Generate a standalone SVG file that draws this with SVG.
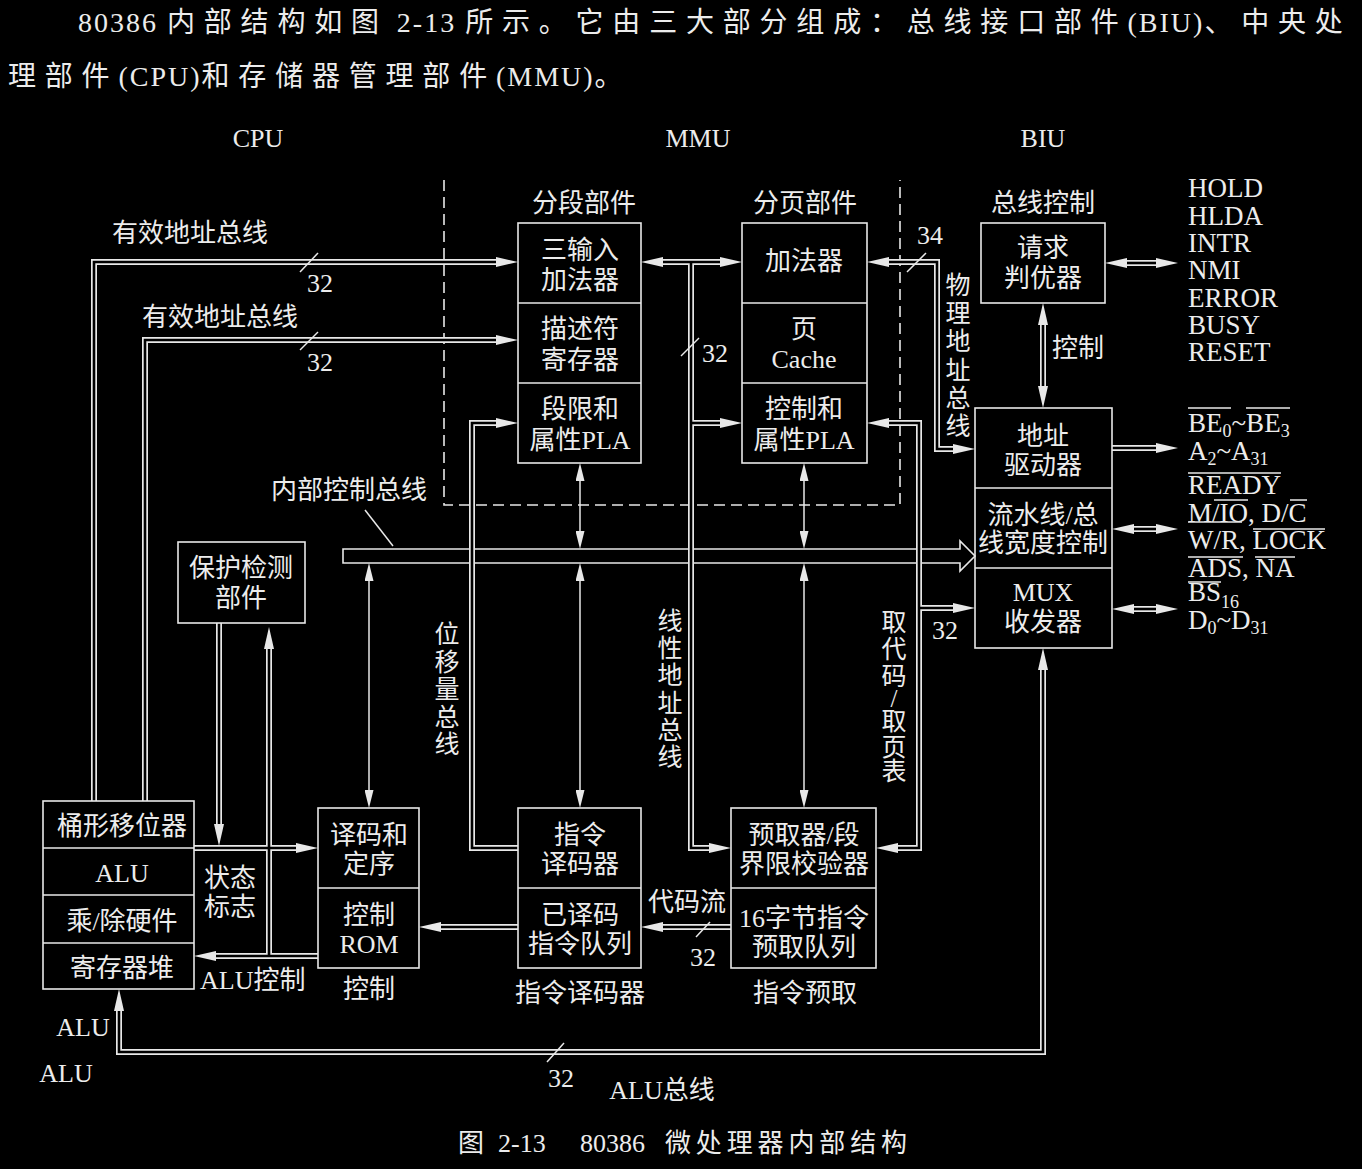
<svg xmlns="http://www.w3.org/2000/svg" width="1362" height="1169" viewBox="0 0 1362 1169">
<style>
.box{fill:none;stroke:#e8e8e8;stroke-width:1.6}
.t{font-family:"Liberation Serif","Noto Sans CJK SC",serif;font-size:26px;fill:#ececec;text-anchor:middle;dominant-baseline:central}
.s{text-anchor:start}
.h{font-size:28px}
.cj{letter-spacing:8.8px}
.la{letter-spacing:2px}
.sig{font-size:27px}
.v{font-size:25px}
.o{fill:none;stroke:#e8e8e8;stroke-width:6;stroke-linejoin:miter}
.i{fill:none;stroke:#000;stroke-width:2.6;stroke-linejoin:miter}
.sl{fill:none;stroke:#e8e8e8;stroke-width:1.5}
.dash{fill:none;stroke:#e8e8e8;stroke-width:1.6;stroke-dasharray:11 6}
.sub{font-size:18px}
</style>
<defs>
<marker id="ah" viewBox="0 0 22 10" refX="0" refY="5" markerWidth="22" markerHeight="10" markerUnits="userSpaceOnUse" orient="auto-start-reverse"><path d="M0,0 L22,5 L0,10 Z" fill="#e8e8e8"/></marker>
<marker id="as" viewBox="0 0 18 9" refX="0" refY="4.5" markerWidth="18" markerHeight="9" markerUnits="userSpaceOnUse" orient="auto-start-reverse"><path d="M0,0 L18,4.5 L0,9 Z" fill="#e8e8e8"/></marker>
</defs>
<rect x="0" y="0" width="1362" height="1169" fill="#000"/>

<!-- header text -->
<g id="header">
<text class="t s h" x="78" y="22" xml:space="preserve"><tspan class="la">80386 </tspan><tspan class="cj">内部结构如图</tspan><tspan class="la"> 2-13 </tspan><tspan class="cj">所示。它由三大部分组成：总线接口部件</tspan><tspan class="la">(BIU)</tspan><tspan class="cj">、中央</tspan><tspan>处</tspan></text>
<text class="t s h" x="8" y="76"><tspan class="cj">理部件</tspan><tspan class="la">(CPU)</tspan><tspan class="cj">和存储器管理部件</tspan><tspan class="la">(MMU)</tspan><tspan>。</tspan></text>
</g>

<text class="t" x="258" y="138">CPU</text>
<text class="t" x="698" y="138">MMU</text>
<text class="t" x="1043" y="138">BIU</text>

<!-- MMU dashed boundary -->
<path class="dash" d="M444,180 V505 H900 V180"/>

<!-- internal control bus -->
<g id="internal-control-bus">
<path class="box" d="M343,549 H960 V541 L975,556 L960,571 V563 H343 Z"/>
<line class="sl" x1="365" y1="510" x2="393" y2="546"/>
<text class="t" x="349" y="490">内部控制总线</text>
</g>

<!-- connectors -->
<g id="connectors">
<g id="outer">
<path class="o" d="M94,801 V262 H496" marker-end="url(#ah)"/>
<path class="o" d="M145,801 V340 H496" marker-end="url(#ah)"/>
<path class="o" d="M663,262 H720" marker-start="url(#ah)" marker-end="url(#ah)"/>
<path class="o" d="M691,262 V848 H709" marker-end="url(#ah)"/>
<path class="o" d="M691,423 H720" marker-end="url(#ah)"/>
<path class="o" d="M518,848 H472 V423 H496" marker-end="url(#ah)"/>
<path class="o" d="M889,262 H937 V449 H953" marker-start="url(#ah)" marker-end="url(#ah)"/>
<path class="o" d="M889,423 H919 V848 H898" marker-start="url(#ah)" marker-end="url(#ah)"/>
<path class="o" d="M919,608 H953" marker-end="url(#ah)"/>
<path class="o" d="M1112,448 H1156" marker-end="url(#ah)"/>
<path class="o" d="M1127,263 H1156" marker-start="url(#ah)" marker-end="url(#ah)"/>
<path class="o" d="M1134,529 H1156" marker-start="url(#ah)" marker-end="url(#ah)"/>
<path class="o" d="M1134,609 H1156" marker-start="url(#ah)" marker-end="url(#ah)"/>
<path class="o" d="M1043,325 V386" marker-start="url(#ah)" marker-end="url(#ah)"/>
<path class="o" d="M1043,670 V1052 H119 V1011" marker-start="url(#ah)" marker-end="url(#ah)"/>
<path class="o" d="M194,848 H296" marker-end="url(#ah)"/>
<path class="o" d="M219,623 V824" marker-end="url(#ah)"/>
<path class="o" d="M269,956 V649" marker-end="url(#ah)"/>
<path class="o" d="M318,956 H216" marker-end="url(#ah)"/>
<path class="o" d="M518,927 H441" marker-end="url(#ah)"/>
<path class="o" d="M731,927 H663" marker-end="url(#ah)"/>
</g>
<g id="inner">
<path class="i" d="M94,801 V262 H496"/>
<path class="i" d="M145,801 V340 H496"/>
<path class="i" d="M663,262 H720"/>
<path class="i" d="M691,262 V848 H709"/>
<path class="i" d="M691,423 H720"/>
<path class="i" d="M518,848 H472 V423 H496"/>
<path class="i" d="M889,262 H937 V449 H953"/>
<path class="i" d="M889,423 H919 V848 H898"/>
<path class="i" d="M919,608 H953"/>
<path class="i" d="M1112,448 H1156"/>
<path class="i" d="M1127,263 H1156"/>
<path class="i" d="M1134,529 H1156"/>
<path class="i" d="M1134,609 H1156"/>
<path class="i" d="M1043,325 V386"/>
<path class="i" d="M1043,670 V1052 H119 V1011"/>
<path class="i" d="M194,848 H296"/>
<path class="i" d="M219,623 V824"/>
<path class="i" d="M269,956 V649"/>
<path class="i" d="M318,956 H216"/>
<path class="i" d="M518,927 H441"/>
<path class="i" d="M731,927 H663"/>
</g>
<g id="single">
<path class="sl" d="M369,581 V790" marker-start="url(#as)" marker-end="url(#as)"/>
<path class="sl" d="M580,481 V531" marker-start="url(#as)" marker-end="url(#as)"/>
<path class="sl" d="M580,581 V790" marker-start="url(#as)" marker-end="url(#as)"/>
<path class="sl" d="M804,481 V531" marker-start="url(#as)" marker-end="url(#as)"/>
<path class="sl" d="M804,581 V790" marker-start="url(#as)" marker-end="url(#as)"/>
</g>
<g id="bus-width-marks">
<line class="sl" x1="300" y1="272" x2="318" y2="253"/>
<line class="sl" x1="300" y1="350" x2="318" y2="332"/>
<line class="sl" x1="681" y1="356" x2="699" y2="338"/>
<line class="sl" x1="907" y1="272" x2="926" y2="253"/>
<line class="sl" x1="696" y1="937" x2="710" y2="922"/>
<line class="sl" x1="547" y1="1062" x2="564" y2="1043"/>
</g>
<g id="connector-labels">
<text class="t" x="190" y="233">有效地址总线</text>
<text class="t" x="320" y="283">32</text>
<text class="t" x="220" y="317">有效地址总线</text>
<text class="t" x="320" y="362">32</text>
<text class="t" x="715" y="353">32</text>
<text class="t" x="930" y="235">34</text>
<text class="t" x="945" y="630">32</text>
<text class="t" x="687" y="902">代码流</text>
<text class="t" x="703" y="957">32</text>
<text class="t" x="1078" y="348">控制</text>
<text class="t" x="230" y="878">状态</text>
<text class="t" x="230" y="907">标志</text>
<text class="t s" x="200" y="980">ALU控制</text>
<text class="t" x="83" y="1027">ALU</text>
<text class="t" x="66" y="1073">ALU</text>
<text class="t" x="561" y="1078">32</text>
<text class="t" x="662" y="1090">ALU总线</text>
<text class="t v"><tspan x="958" y="285">物</tspan><tspan x="958" y="313">理</tspan><tspan x="958" y="341">地</tspan><tspan x="958" y="370">址</tspan><tspan x="958" y="398">总</tspan><tspan x="958" y="426">线</tspan></text>
<text class="t v"><tspan x="670" y="621">线</tspan><tspan x="670" y="648">性</tspan><tspan x="670" y="675">地</tspan><tspan x="670" y="703">址</tspan><tspan x="670" y="730">总</tspan><tspan x="670" y="757">线</tspan></text>
<text class="t v"><tspan x="447" y="634">位</tspan><tspan x="447" y="662">移</tspan><tspan x="447" y="689">量</tspan><tspan x="447" y="717">总</tspan><tspan x="447" y="744">线</tspan></text>
<text class="t v"><tspan x="894" y="622">取</tspan><tspan x="894" y="649">代</tspan><tspan x="894" y="676">码</tspan><tspan x="894" y="698">/</tspan><tspan x="894" y="721">取</tspan><tspan x="894" y="747">页</tspan><tspan x="894" y="771">表</tspan></text>
</g>
</g>

<!-- nodes -->
<g id="segment-unit">
<text class="t" x="584" y="203">分段部件</text>
<rect class="box" x="518" y="223" width="123" height="240"/>
<line class="box" x1="518" y1="303" x2="641" y2="303"/>
<line class="box" x1="518" y1="383" x2="641" y2="383"/>
<text class="t" x="580" y="250">三输入</text>
<text class="t" x="580" y="280">加法器</text>
<text class="t" x="580" y="329">描述符</text>
<text class="t" x="580" y="360">寄存器</text>
<text class="t" x="580" y="409">段限和</text>
<text class="t" x="580" y="440">属性PLA</text>
</g>

<g id="paging-unit">
<text class="t" x="805" y="203">分页部件</text>
<rect class="box" x="742" y="223" width="125" height="240"/>
<line class="box" x1="742" y1="303" x2="867" y2="303"/>
<line class="box" x1="742" y1="383" x2="867" y2="383"/>
<text class="t" x="804" y="261">加法器</text>
<text class="t" x="804" y="329">页</text>
<text class="t" x="804" y="359">Cache</text>
<text class="t" x="804" y="409">控制和</text>
<text class="t" x="804" y="440">属性PLA</text>
</g>

<g id="bus-arbiter">
<text class="t" x="1043" y="203">总线控制</text>
<rect class="box" x="981" y="223" width="124" height="80"/>
<text class="t" x="1043" y="248">请求</text>
<text class="t" x="1043" y="278">判优器</text>
</g>

<g id="biu-main">
<rect class="box" x="975" y="408" width="137" height="240"/>
<line class="box" x1="975" y1="488" x2="1112" y2="488"/>
<line class="box" x1="975" y1="568" x2="1112" y2="568"/>
<text class="t" x="1043" y="436">地址</text>
<text class="t" x="1043" y="465">驱动器</text>
<text class="t" x="1043" y="515">流水线/总</text>
<text class="t" x="1043" y="543">线宽度控制</text>
<text class="t" x="1043" y="592">MUX</text>
<text class="t" x="1043" y="622">收发器</text>
</g>

<g id="biu-signals">
<text class="t s sig" x="1188" y="188">HOLD</text>
<text class="t s sig" x="1188" y="216">HLDA</text>
<text class="t s sig" x="1188" y="243">INTR</text>
<text class="t s sig" x="1188" y="270">NMI</text>
<text class="t s sig" x="1188" y="298">ERROR</text>
<text class="t s sig" x="1188" y="325">BUSY</text>
<text class="t s sig" x="1188" y="352">RESET</text>
<text class="t s sig" x="1188" y="423">BE<tspan class="sub" dy="8">0</tspan><tspan dy="-8">~BE</tspan><tspan class="sub" dy="8">3</tspan></text>
<text class="t s sig" x="1188" y="451">A<tspan class="sub" dy="8">2</tspan><tspan dy="-8">~A</tspan><tspan class="sub" dy="8">31</tspan></text>
<text class="t s sig" x="1188" y="485">READY</text>
<text class="t s sig" x="1188" y="513">M/IO, D/C</text>
<text class="t s sig" x="1188" y="540">W/R, LOCK</text>
<text class="t s sig" x="1188" y="568">ADS, NA</text>
<text class="t s sig" x="1188" y="592">BS<tspan class="sub" dy="10">16</tspan></text>
<text class="t s sig" x="1188" y="620">D<tspan class="sub" dy="8">0</tspan><tspan dy="-8">~D</tspan><tspan class="sub" dy="8">31</tspan></text>
<g class="overlines">
<line class="sl" x1="1188" y1="408" x2="1231" y2="408"/>
<line class="sl" x1="1246" y1="408" x2="1290" y2="408"/>
<line class="sl" x1="1188" y1="473" x2="1281" y2="473"/>
<line class="sl" x1="1214" y1="500" x2="1248" y2="500"/>
<line class="sl" x1="1290" y1="500" x2="1307" y2="500"/>
<line class="sl" x1="1188" y1="522" x2="1242" y2="522"/>
<line class="sl" x1="1253" y1="529" x2="1325" y2="529"/>
<line class="sl" x1="1188" y1="557" x2="1243" y2="557"/>
<line class="sl" x1="1255" y1="557" x2="1295" y2="557"/>
<line class="sl" x1="1188" y1="582" x2="1221" y2="582"/>
</g>
</g>

<g id="protection-unit">
<rect class="box" x="178" y="542" width="127" height="81"/>
<text class="t" x="241" y="568">保护检测</text>
<text class="t" x="241" y="598">部件</text>
</g>

<g id="execution-unit">
<rect class="box" x="43" y="801" width="151" height="188"/>
<line class="box" x1="43" y1="848" x2="194" y2="848"/>
<line class="box" x1="43" y1="895" x2="194" y2="895"/>
<line class="box" x1="43" y1="943" x2="194" y2="943"/>
<text class="t" x="122" y="826">桶形移位器</text>
<text class="t" x="122" y="873">ALU</text>
<text class="t" x="122" y="921">乘/除硬件</text>
<text class="t" x="122" y="968">寄存器堆</text>
</g>

<g id="control-unit">
<rect class="box" x="318" y="808" width="101" height="160"/>
<line class="box" x1="318" y1="888" x2="419" y2="888"/>
<text class="t" x="369" y="835">译码和</text>
<text class="t" x="369" y="864">定序</text>
<text class="t" x="369" y="915">控制</text>
<text class="t" x="369" y="944">ROM</text>
<text class="t" x="369" y="989">控制</text>
</g>

<g id="instruction-decoder">
<rect class="box" x="518" y="808" width="123" height="160"/>
<line class="box" x1="518" y1="888" x2="641" y2="888"/>
<text class="t" x="580" y="835">指令</text>
<text class="t" x="580" y="864">译码器</text>
<text class="t" x="580" y="915">已译码</text>
<text class="t" x="580" y="944">指令队列</text>
<text class="t" x="580" y="993">指令译码器</text>
</g>

<g id="prefetch-unit">
<rect class="box" x="731" y="808" width="145" height="160"/>
<line class="box" x1="731" y1="888" x2="876" y2="888"/>
<text class="t" x="804" y="835">预取器/段</text>
<text class="t" x="804" y="864">界限校验器</text>
<text class="t" x="804" y="918">16字节指令</text>
<text class="t" x="804" y="947">预取队列</text>
<text class="t" x="805" y="993">指令预取</text>
</g>

<text class="t s" y="1143"><tspan x="458">图</tspan><tspan x="498">2-13</tspan><tspan x="580">80386</tspan><tspan x="665" textLength="242" lengthAdjust="spacing">微处理器内部结构</tspan></text>
</svg>
